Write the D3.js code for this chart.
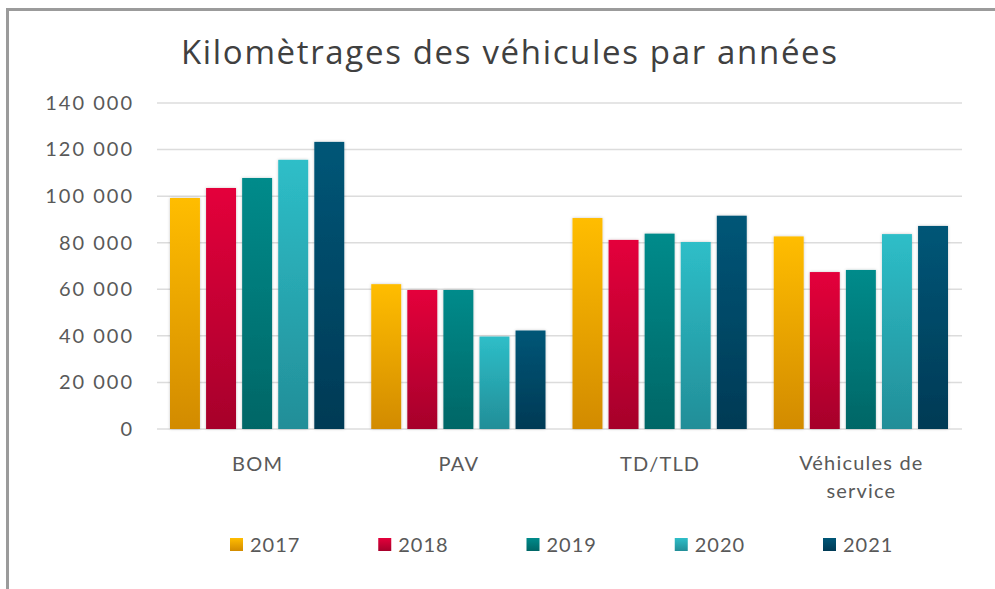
<!DOCTYPE html>
<html>
<head>
<meta charset="utf-8">
<script src="https://cdn.jsdelivr.net/npm/d3@7"></script>
<style>
  body { margin: 0; background: #fff; }
  svg { display: block; font-family: Lato, "Open Sans", sans-serif; }
</style>
</head>
<body>
<svg id="chart" width="995" height="589"></svg>
<script>
// Data
const categories = ['BOM', 'PAV', 'TD/TLD', 'Véhicules de service'];
const years = ['2017', '2018', '2019', '2020', '2021'];
const values2017 = [99200, 62200, 90600, 82700];
const values2018 = [103500, 59700, 81200, 67400];
const values2019 = [107800, 59700, 83900, 68300];
const values2020 = [115600, 39700, 80300, 83700];
const values2021 = [123300, 42300, 91600, 87200];
const yTicks = [0, 20000, 40000, 60000, 80000, 100000, 120000, 140000];

const seriesValues = [values2017, values2018, values2019, values2020, values2021];

// top / bottom colours for each year's gradient
const colorTop = ['#ffbd00', '#e4003b', '#008b8b', '#2ebec8', '#005677'];
const colorBottom = ['#d28b00', '#a6002b', '#006666', '#228e98', '#003a55'];

const svg = d3.select('#chart');
const width = 995;
const height = 589;

// frame
svg.append('rect')
  .attr('x', 7.5).attr('y', 9.5)
  .attr('width', width + 10).attr('height', height + 10)
  .attr('fill', 'none')
  .attr('stroke', '#9b9b9b')
  .attr('stroke-width', 3);

const defs = svg.append('defs');
years.forEach(function (y, i) {
  const g = defs.append('linearGradient')
    .attr('id', 'grad' + i)
    .attr('x1', 0).attr('y1', 0).attr('x2', 0).attr('y2', 1);
  g.append('stop').attr('offset', '0%').attr('stop-color', colorTop[i]);
  g.append('stop').attr('offset', '100%').attr('stop-color', colorBottom[i]);
});

const shadow = defs.append('filter').attr('id', 'shadow')
  .attr('x', '-20%').attr('y', '-5%').attr('width', '140%').attr('height', '110%');
shadow.append('feDropShadow')
  .attr('dx', 0).attr('dy', 0).attr('stdDeviation', 1.6)
  .attr('flood-color', '#000').attr('flood-opacity', 0.22);

// Title
svg.append('text')
  .attr('x', 509).attr('y', 64)
  .attr('text-anchor', 'middle')
  .attr('font-family', '"Open Sans", Lato, sans-serif')
  .attr('font-size', 33)
  .attr('fill', '#404040')
  .attr('textLength', 656)
  .attr('lengthAdjust', 'spacing')
  .text('Kilomètrages des véhicules par années');

// Scales
const x0 = d3.scaleBand().domain(categories).range([157, 962]).padding(0);
const x1 = d3.scaleBand().domain(years)
  .range([13, x0.bandwidth() - 14]).paddingInner(0.17);
const y = d3.scaleLinear().domain([0, 140000]).range([429, 103]);

// Gridlines
svg.append('g')
  .selectAll('line')
  .data(yTicks)
  .enter()
  .append('line')
  .attr('x1', 157).attr('x2', 962)
  .attr('y1', function (d) { return y(d); })
  .attr('y2', function (d) { return y(d); })
  .attr('stroke', '#dcdcdc')
  .attr('stroke-width', 1.5);

// Y axis labels
const fmt = function (d) { return d3.format(',')(d).replace(/,/g, ' '); };
const yAxis = svg.append('g')
  .attr('transform', 'translate(146,0)')
  .call(d3.axisLeft(y).tickValues(yTicks).tickFormat(fmt).tickSize(0).tickPadding(12));
yAxis.select('.domain').remove();
yAxis.selectAll('text')
  .attr('font-family', 'Lato, sans-serif')
  .attr('font-size', 20)
  .attr('letter-spacing', 2)
  .attr('fill', '#595959');

// Bars
const groups = svg.append('g')
  .selectAll('g')
  .data(categories)
  .enter()
  .append('g')
  .attr('transform', function (d) { return 'translate(' + x0(d) + ',0)'; });

groups.selectAll('rect')
  .data(function (d, ci) {
    return years.map(function (yr, si) {
      return { year: yr, index: si, value: seriesValues[si][ci] };
    });
  })
  .enter()
  .append('rect')
  .attr('x', function (d) { return x1(d.year); })
  .attr('y', function (d) { return y(d.value); })
  .attr('width', x1.bandwidth())
  .attr('height', function (d) { return y(0) - y(d.value); })
  .attr('fill', function (d) { return 'url(#grad' + d.index + ')'; })
  .attr('filter', 'url(#shadow)');

// Category labels
const catLabels = svg.append('g')
  .selectAll('text')
  .data(categories)
  .enter()
  .append('text')
  .attr('x', function (d) { return x0(d) + x0.bandwidth() / 2; })
  .attr('y', 471)
  .attr('text-anchor', 'middle')
  .attr('font-size', 20)
  .attr('letter-spacing', 1.2)
  .attr('fill', '#595959');

catLabels.each(function (d) {
  const t = d3.select(this);
  if (d === 'Véhicules de service') {
    t.attr('y', 470);
    t.append('tspan').attr('x', x0(d) + x0.bandwidth() / 2).text('Véhicules de');
    t.append('tspan').attr('x', x0(d) + x0.bandwidth() / 2).attr('dy', 28).text('service');
  } else {
    t.text(d);
  }
});

// Legend
const legendX = d3.scalePoint().domain(years).range([230, 823]);
const legend = svg.append('g')
  .selectAll('g')
  .data(years)
  .enter()
  .append('g')
  .attr('transform', function (d) { return 'translate(' + legendX(d) + ',538)'; });

legend.append('rect')
  .attr('width', 13).attr('height', 13)
  .attr('fill', function (d, i) { return 'url(#grad' + i + ')'; });

legend.append('text')
  .attr('x', 20).attr('y', 14)
  .attr('font-size', 20)
  .attr('letter-spacing', 1)
  .attr('fill', '#595959')
  .text(function (d) { return d; });
</script>
</body>
</html>
